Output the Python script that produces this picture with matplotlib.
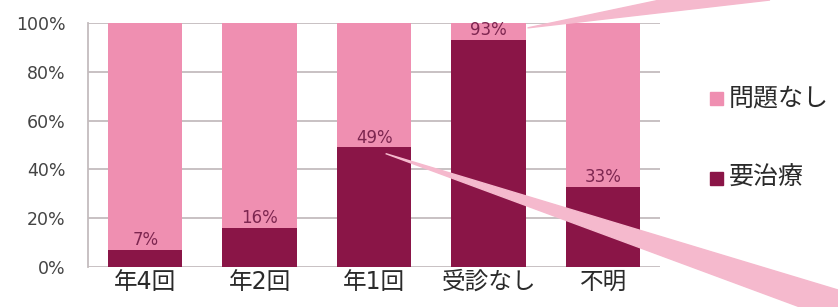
import matplotlib.pyplot as plt
from matplotlib.patches import Polygon

plt.rcParams['font.family'] = ['DejaVu Sans', 'Noto Sans CJK JP']

# data
categories = ['年4回', '年2回', '年1回', '受診なし', '不明']
need_treatment = [7, 16, 49, 93, 33]
no_problem = [100 - v for v in need_treatment]
labels = ['7%', '16%', '49%', '93%', '33%']

light = '#ef8fb1'
dark = '#8a1547'
wedge = '#f5b9cd'

fig = plt.figure(figsize=(8.38, 3.07), dpi=100)
ax = fig.add_axes([0.105, 0.130, 0.683, 0.795])

x = list(range(len(categories)))
ax.bar(x, need_treatment, width=0.65, color=dark, zorder=2, label='要治療')
ax.bar(x, no_problem, width=0.65, bottom=need_treatment, color=light, zorder=2,
       label='問題なし')

for i, v in enumerate(need_treatment):
    ax.text(i, v + 0.3, labels[i], ha='center', va='bottom', fontsize=12,
            color='#7d2650', zorder=4)

ax.set_xlim(-0.5, 4.5)
ax.set_ylim(0, 100)
ax.set_yticks([0, 20, 40, 60, 80, 100])
ax.set_yticklabels(['0%', '20%', '40%', '60%', '80%', '100%'], fontsize=12.5,
                   color='#444444')
ax.set_xticks(x)
ax.set_xticklabels(categories, fontsize=17, color='#2a2a2a')
ax.tick_params(axis='y', length=0, pad=16)
ax.tick_params(axis='x', length=0, pad=2)
ax.grid(axis='y', color='#c4bcbe', linewidth=1.3, zorder=0)
for s in ['top', 'right', 'bottom']:
    ax.spines[s].set_visible(False)
ax.spines['left'].set_color('#c4bcbe')
ax.spines['left'].set_linewidth(1.3)

# decorative callout wedges (pink)
fig.canvas.draw()
W, H = fig.bbox.width, fig.bbox.height
def to_fig(xd, yd):
    px, py = ax.transData.transform((xd, yd))
    return px / W, py / H

t1 = to_fig(3.34, 98)
fig.patches.append(Polygon([t1, (660 / W, 1.0), (770 / W, 1.0)], closed=True,
                           transform=fig.transFigure, color=wedge, zorder=5))
t2 = to_fig(2.1, 46.5)
fig.patches.append(Polygon([t2, (1.0, 1 - 290 / H), (1.0, 0.0), (800 / W, 0.0)],
                           closed=True, transform=fig.transFigure, color=wedge,
                           zorder=5))

# legend drawn as squares + text
fig.patches.append(plt.Rectangle((710 / W, 1 - 105 / H), 13 / W, 13 / H,
                                 transform=fig.transFigure, color=light))
fig.text(729 / W, 1 - 98 / H, '問題なし', fontsize=18, va='center', color='#2a2a2a')
fig.patches.append(plt.Rectangle((710 / W, 1 - 185 / H), 13 / W, 13 / H,
                                 transform=fig.transFigure, color=dark))
fig.text(729 / W, 1 - 178 / H, '要治療', fontsize=18, va='center', color='#2a2a2a')

fig.savefig('out.png', dpi=100)
